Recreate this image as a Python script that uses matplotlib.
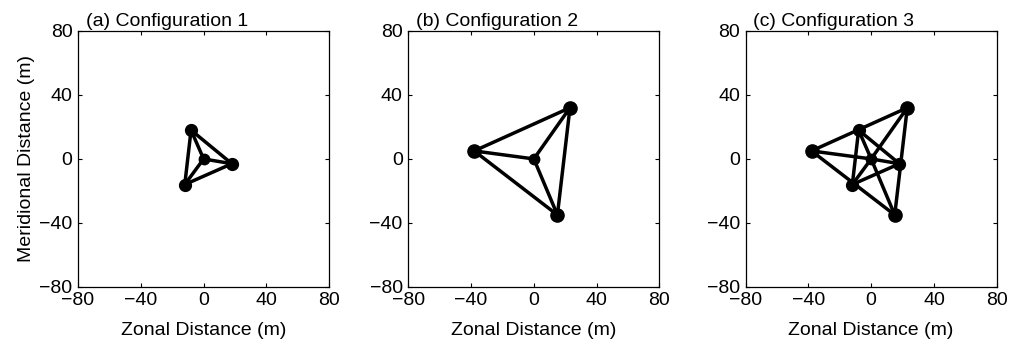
import matplotlib.pyplot as plt
import numpy as np

plt.rcParams['font.family'] = ['Liberation Sans', 'DejaVu Sans']

# station positions (m)
center_x, center_y = 0, 0
inner_x = [-8, 18, -12]
inner_y = [18, -3, -16]
outer_x = [-38, 23, 15]
outer_y = [5, 32, -35]

titles = ["(a) Configuration 1", "(b) Configuration 2", "(c) Configuration 3"]
ticks = [-80, -40, 0, 40, 80]


def draw_triangle(ax, xs, ys, lw=2.5):
    # triangle edges plus spokes to the center station
    for i in range(3):
        j = (i + 1) % 3
        ax.plot([xs[i], xs[j]], [ys[i], ys[j]], color="black", lw=lw, zorder=2)
        ax.plot([center_x, xs[i]], [center_y, ys[i]], color="black", lw=lw, zorder=2)


fig = plt.figure(figsize=(10.13, 3.44), dpi=100)
lefts = [0.077, 0.403, 0.736]
axes = [fig.add_axes([l, 0.166, 0.248, 0.744]) for l in lefts]

# (a) inner triangle
draw_triangle(axes[0], inner_x, inner_y)
axes[0].plot(inner_x, inner_y, "o", color="black", ms=8.5, zorder=3)

# (b) outer triangle
draw_triangle(axes[1], outer_x, outer_y)
axes[1].plot(outer_x, outer_y, "o", color="black", ms=9.5, zorder=3)

# (c) both
draw_triangle(axes[2], inner_x, inner_y)
draw_triangle(axes[2], outer_x, outer_y)
axes[2].plot(inner_x, inner_y, "o", color="black", ms=8.5, zorder=3)
axes[2].plot(outer_x, outer_y, "o", color="black", ms=9.5, zorder=3)

for ax, title in zip(axes, titles):
    ax.plot([center_x], [center_y], "o", color="black", ms=7.5, zorder=3)
    ax.set_xlim(-80, 80)
    ax.set_ylim(-80, 80)
    ax.set_xticks(ticks)
    ax.set_yticks(ticks)
    ax.tick_params(direction="in", length=3, width=0.8, top=True, right=True,
                   labelsize=14, pad=4)
    for s in ax.spines.values():
        s.set_linewidth(0.9)
    ax.set_xlabel("Zonal Distance (m)", fontsize=14, labelpad=9)
    ax.text(0.03, 1.02, title, transform=ax.transAxes, fontsize=14,
            ha="left", va="baseline")

axes[0].set_ylabel("Meridional Distance (m)", fontsize=14, labelpad=3)

fig.savefig("out.png", dpi=100)
